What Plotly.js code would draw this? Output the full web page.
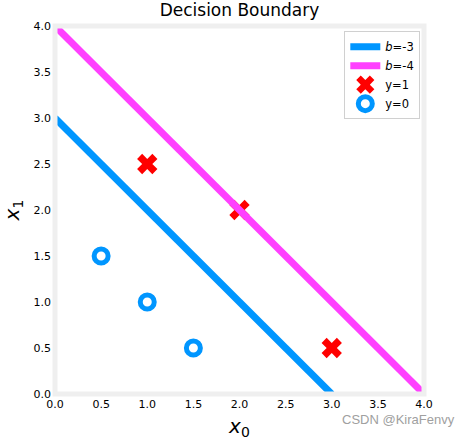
<!DOCTYPE html>
<html>
<head>
<meta charset="utf-8">
<script src="https://cdn.plot.ly/plotly-3.0.1.min.js"></script>
<style>html,body{margin:0;padding:0;background:#fff;}</style>
</head>
<body>
<div id="chart" style="width:471px;height:440px;"></div>
<script>
// Data
const pos_x0 = [1, 2, 3];
const pos_x1 = [2.5, 2, 0.5];
const neg_x0 = [0.5, 1, 1.5];
const neg_x1 = [1.5, 1, 0.5];
const lineA_x0 = [0, 3];
const lineA_x1 = [3, 0];
const lineB_x0 = [0, 4];
const lineB_x1 = [4, 0];
const tickVals = [0, 0.5, 1, 1.5, 2, 2.5, 3, 3.5, 4];

const font = "DejaVu Sans, sans-serif";
const traces = [
  {x: pos_x0, y: pos_x1, type: 'scatter', mode: 'markers', name: 'y=1', legendrank: 3,
   marker: {symbol: 'x', size: 18, color: '#ff0000', line: {width: 0}}},
  {x: neg_x0, y: neg_x1, type: 'scatter', mode: 'markers', name: 'y=0', legendrank: 4,
   marker: {symbol: 'circle-open', size: 14, color: '#0096ff', line: {width: 5, color: '#0096ff'}}},
  {x: lineA_x0, y: lineA_x1, type: 'scatter', mode: 'lines', name: '<i>b</i>=-3', legendrank: 1,
   line: {color: '#0096ff', width: 7}},
  {x: lineB_x0, y: lineB_x1, type: 'scatter', mode: 'lines', name: '<i>b</i>=-4', legendrank: 2,
   line: {color: '#ff40ff', width: 7}}
];

const layout = {
  width: 471, height: 440,
  margin: {l: 55, r: 47, t: 26, b: 46},
  paper_bgcolor: '#fff', plot_bgcolor: '#fff',
  font: {family: font, size: 11, color: '#000'},
  title: {text: 'Decision Boundary', font: {family: font, size: 17, color: '#000'},
          x: 0.5, xref: 'paper', xanchor: 'center', y: 0.978, yref: 'container', yanchor: 'middle'},
  xaxis: {range: [0, 4], tickvals: tickVals, tickformat: '.1f', showgrid: false, zeroline: false,
          ticks: '', showline: false, tickfont: {size: 11}, ticklabelstandoff: 2,
          title: {text: '<i>x</i><sub>0</sub>', font: {size: 20}, standoff: 8}},
  yaxis: {range: [0, 4], tickvals: tickVals, tickformat: '.1f', showgrid: false, zeroline: false,
          ticks: '', showline: false, tickfont: {size: 11}, ticklabelstandoff: 3,
          title: {text: '<i>x</i><sub>1</sub>', font: {size: 20}, standoff: 12}},
  showlegend: true,
  legend: {x: 0.99, xanchor: 'right', y: 0.986, yanchor: 'top', bgcolor: '#fff',
           bordercolor: '#d0d0d0', borderwidth: 1, font: {size: 11.5}, tracegroupgap: 0},
  shapes: [{type: 'rect', xref: 'paper', yref: 'paper', x0: 0, x1: 1, y0: 0, y1: 1,
            line: {color: '#efefef', width: 5}, layer: 'above'}],
  annotations: [{text: 'CSDN @KiraFenvy', xref: 'paper', yref: 'paper', x: 1.09, y: -0.07,
                 xanchor: 'right', yanchor: 'middle', showarrow: false,
                 font: {family: 'Liberation Sans, Arial, sans-serif', size: 13, color: '#a0a0a0'}}]
};

Plotly.newPlot('chart', traces, layout, {displayModeBar: false, staticPlot: true});
</script>
</body>
</html>
